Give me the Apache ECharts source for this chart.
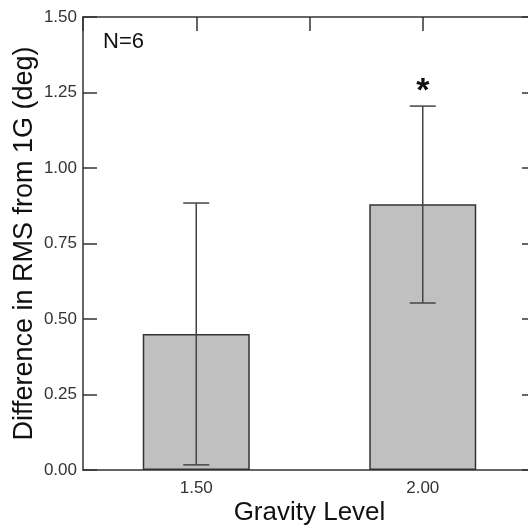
<!DOCTYPE html>
<html><head><meta charset="utf-8">
<script src="https://cdn.jsdelivr.net/npm/echarts@6/dist/echarts.min.js"></script>
<style>html,body{margin:0;padding:0;background:#fff}#c{width:528px;height:532px}</style>
</head><body><div id="c"></div>
<script>
const categories = ['1.50', '2.00'];
const means = [0.45, 0.88];
const errLow = [0.017, 0.553];
const errHigh = [0.884, 1.205];
const significance = ['', '*'];
const yMin = 0, yMax = 1.5, yStep = 0.25;
const topMin = 1.25, topMax = 2.25, topStep = 0.25;
const sampleNote = 'N=6';
const xTitle = 'Gravity Level';
const yTitle = 'Difference in RMS from 1G (deg)';

const FONT = '"Liberation Sans", Arial, sans-serif';
const axisColor = '#333';
const chart = echarts.init(document.getElementById('c'), null, {renderer: 'canvas'});

chart.setOption({
  animation: false,
  backgroundColor: '#fff',
  grid: {left: 83, top: 17, width: 453, height: 453, containLabel: false, outerBoundsMode: 'none'},
  graphic: [{
    type: 'text', left: 103, top: 31,
    style: {text: sampleNote, font: '22px ' + FONT, fill: '#111'}
  }],
  xAxis: [{
    type: 'category', data: categories, position: 'bottom',
    axisLine: {lineStyle: {color: axisColor, width: 1.5}},
    axisTick: {show: false},
    axisLabel: {fontSize: 17, fontFamily: FONT, color: '#333', margin: 10},
    name: xTitle, nameLocation: 'middle', nameGap: 30, nameMoveOverlap: false,
    nameTextStyle: {fontSize: 26, fontFamily: FONT, color: '#111'}
  }, {
    type: 'value', position: 'top', min: topMin, max: topMax, interval: topStep,
    axisLine: {show: true, onZero: false, lineStyle: {color: axisColor, width: 1.5}},
    axisTick: {show: true, inside: true, length: 14, lineStyle: {color: axisColor, width: 1.5}},
    axisLabel: {show: false}, splitLine: {show: false}
  }],
  yAxis: [{
    type: 'value', min: yMin, max: yMax, interval: yStep, position: 'left',
    axisLine: {show: true, onZero: false, lineStyle: {color: axisColor, width: 1.5}},
    axisTick: {show: true, inside: true, length: 14, lineStyle: {color: axisColor, width: 1.5}},
    axisLabel: {fontSize: 17, fontFamily: FONT, color: '#333', margin: 6,
      formatter: v => v.toFixed(2)},
    splitLine: {show: false},
    name: yTitle, nameLocation: 'middle', nameGap: 45, nameMoveOverlap: false,
    nameTextStyle: {fontSize: 27, fontFamily: FONT, color: '#111'}
  }, {
    type: 'value', min: yMin, max: yMax, interval: yStep, position: 'right',
    axisLine: {show: true, onZero: false, lineStyle: {color: axisColor, width: 1.5}},
    axisTick: {show: true, inside: true, length: 14, lineStyle: {color: axisColor, width: 1.5}},
    axisLabel: {show: false}, splitLine: {show: false}
  }],
  series: [{
    type: 'bar', xAxisIndex: 0, yAxisIndex: 0,
    data: means, barWidth: 107,
    itemStyle: {color: '#c0c0c0', borderColor: '#333', borderWidth: 1.5},
    z: 2
  }, {
    type: 'custom', xAxisIndex: 0, yAxisIndex: 0, z: 5,
    data: categories.map((c, i) => [i, errLow[i], errHigh[i]]),
    renderItem: function (params, api) {
      const x = api.value(0);
      const lo = api.coord([x, api.value(1)]);
      const hi = api.coord([x, api.value(2)]);
      const half = 13;
      const st = {stroke: '#444', lineWidth: 1.5};
      const children = [
        {type: 'line', shape: {x1: lo[0], y1: lo[1], x2: hi[0], y2: hi[1]}, style: st},
        {type: 'line', shape: {x1: lo[0] - half, y1: lo[1], x2: lo[0] + half, y2: lo[1]}, style: st},
        {type: 'line', shape: {x1: hi[0] - half, y1: hi[1], x2: hi[0] + half, y2: hi[1]}, style: st}
      ];
      const sig = significance[params.dataIndex];
      if (sig) {
        children.push({type: 'text', style: {text: sig, x: hi[0], y: hi[1] + 3,
          align: 'center', verticalAlign: 'bottom', font: 'bold 34px ' + FONT, fill: '#111'}});
      }
      return {type: 'group', children: children};
    }
  }]
});
</script></body></html>
